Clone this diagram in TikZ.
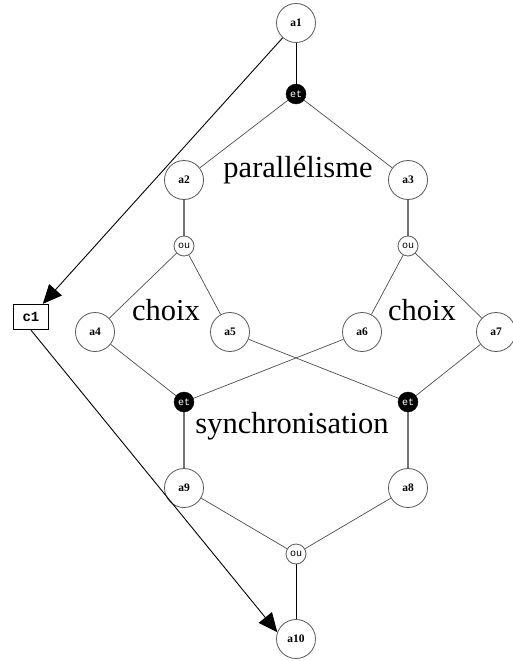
\documentclass[tikz,border=0pt]{standalone}
\usepackage{fontspec}
\setmainfont{Liberation Serif}
\setmonofont{Liberation Mono}
\usetikzlibrary{arrows.meta,backgrounds}
\begin{document}
\begin{tikzpicture}[x=1pt,y=-1pt,
  act/.style={circle,draw=black!65,fill=white,line width=0.8pt,minimum size=39pt,inner sep=0pt,
              font=\fontsize{11.5}{11.5}\selectfont\bfseries},
  andnode/.style={circle,draw=black,fill=black,text=white,minimum size=20pt,inner sep=0pt,
              font=\fontsize{10}{10}\selectfont\ttfamily},
  ornode/.style={circle,draw=black!65,fill=white,line width=0.8pt,minimum size=20pt,inner sep=0pt,
              font=\fontsize{10}{10}\selectfont\ttfamily},
  condbox/.style={draw=black,line width=1.3pt,fill=white,minimum width=35pt,minimum height=25pt,inner sep=0pt,
              font=\fontsize{14}{14}\selectfont\ttfamily\bfseries},
  link/.style={draw=black!70,line width=0.7pt},
  thick link/.style={draw=black!55,line width=1.4pt},
  dark link/.style={draw=black,line width=0.9pt},
  flow/.style={draw=black,line width=0.9pt,-{Triangle[length=19pt,width=17pt]}},
  caption/.style={font=\fontsize{30.5}{30.5}\selectfont,inner sep=0pt,anchor=base}]
\useasboundingbox (0,0) rectangle (512,661);

% activities
\node[act] (a1) at (296,23) {a1};
\node[act] (a2) at (184,180) {a2};
\node[act] (a3) at (408,180) {a3};
\node[act] (a4) at (95,332) {a4};
\node[act] (a5) at (230,332) {a5};
\node[act] (a6) at (362,332) {a6};
\node[act] (a7) at (496,332) {a7};
\node[act] (a9) at (184,488) {a9};
\node[act] (a8) at (408,488) {a8};
\node[act] (a10) at (296,639) {a10};

% connectors
\node[andnode] (et1) at (296,94) {et};
\node[ornode] (ou1) at (184,246) {ou};
\node[ornode] (ou2) at (408,246) {ou};
\node[andnode] (et2) at (184,402) {et};
\node[andnode] (et3) at (408,402) {et};
\node[ornode] (ou3) at (296,554) {ou};

% condition
\node[condbox] (c1) at (31,317) {c1};

% edges, kept behind the nodes
\begin{scope}[on background layer]
\draw[dark link] (a1) -- (et1);
\draw[link] (et1) -- (a2);
\draw[link] (et1) -- (a3);
\draw[thick link] (a2) -- (ou1);
\draw[thick link] (a3) -- (ou2);
\draw[link] (ou1) -- (a4);
\draw[link] (ou1) -- (a5);
\draw[link] (ou2) -- (a6);
\draw[link] (ou2) -- (a7);
\draw[link] (a4) -- (et2);
\draw[link] (a6) -- (et2);
\draw[link] (a5) -- (et3);
\draw[link] (a7) -- (et3);
\draw[thick link] (et2) -- (a9);
\draw[thick link] (et3) -- (a8);
\draw[link] (a9) -- (ou3);
\draw[link] (a8) -- (ou3);
\draw[dark link] (ou3) -- (a10);
\end{scope}
\draw[flow] (a1) -- (c1);
\draw[flow] (c1.south) -- (a10.160);

% captions
\node[caption] (tpar) at (298,177) {parallélisme};
\node[caption] (tch1) at (166,320) {choix};
\node[caption] (tch2) at (422,320) {choix};
\node[caption] (tsyn) at (292,433) {synchronisation};
\end{tikzpicture}
\end{document}
